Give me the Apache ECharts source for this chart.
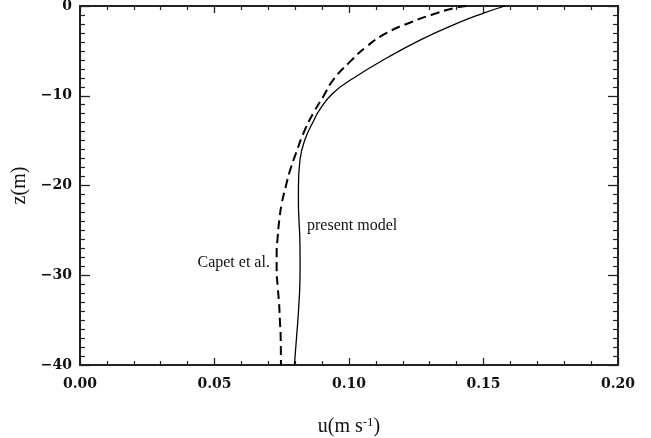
<!DOCTYPE html>
<html>
<head>
<meta charset="utf-8">
<script src="https://cdn.jsdelivr.net/npm/echarts@6/dist/echarts.min.js"></script>
<style>
html,body{margin:0;padding:0;background:#fff;}
#chart{width:651px;height:438px;}
</style>
</head>
<body>
<div id="chart"></div>
<script>
// Present model (solid): depth z (m) and velocity u (m/s)
var modelZ = [0, -0.8, -2.1, -3.8, -5.8, -8.05, -9.7, -11.6, -12.7, -14.9, -17.1, -20.1, -22, -23.8, -25.7, -27.5, -29.4, -31.3, -33.1, -35, -36.9, -40];
var modelU = [0.158, 0.150, 0.1388, 0.1264, 0.114, 0.1016, 0.0941, 0.0890, 0.0870, 0.0836, 0.0818, 0.0812, 0.0812, 0.0814, 0.0817, 0.0818, 0.0818, 0.0817, 0.0814, 0.0810, 0.0805, 0.0797];
// Capet et al. (dashed)
var capetZ = [0, -0.26, -1.0, -1.75, -3.0, -4.5, -6.2, -8.2, -10.1, -11.9, -13.8, -16.4, -18.3, -20.1, -22, -23.8, -25.7, -27.5, -29.4, -31.3, -33.1, -35, -36.9, -40];
var capetU = [0.1437, 0.1388, 0.1305, 0.1235, 0.114, 0.1066, 0.1004, 0.0942, 0.0904, 0.0868, 0.0836, 0.0803, 0.0781, 0.0765, 0.0750, 0.0741, 0.0735, 0.0731, 0.0731, 0.0735, 0.0740, 0.0743, 0.0746, 0.0747];
// Axis ranges [min, max, interval]
var xRange = [0, 0.20, 0.05];
var yRange = [-40, 0, 10];
// Annotations: [text, u, z]
var modelLabel = ['present model', 0.0844, -24.5];
var capetLabel = ['Capet et al.', 0.0706, -28.6];

function pairs(us, zs){ return us.map(function(u,i){ return [u, zs[i]]; }); }

var tickFont = {fontFamily:'DejaVu Serif', fontWeight:'bold', fontSize:14, color:'#111'};
var axisLine = {show:true, onZero:false, lineStyle:{color:'#222', width:2}};

function xAx(pos, showLabel){
  return {
    type:'value', position:pos, min:xRange[0], max:xRange[1], interval:xRange[2],
    axisLine:axisLine,
    axisTick:{show:true, inside:true, length:7, lineStyle:{color:'#222', width:1.3}},
    minorTick:{show:true, splitNumber:5, length:4, lineStyle:{color:'#222', width:1.2}},
    splitLine:{show:false}, minorSplitLine:{show:false},
    axisLabel:Object.assign({show:showLabel, margin:12, formatter:function(v){return v.toFixed(2);}}, tickFont)
  };
}
function yAx(pos, showLabel){
  return {
    type:'value', position:pos, min:yRange[0], max:yRange[1], interval:yRange[2],
    axisLine:axisLine,
    axisTick:{show:true, inside:true, length:10, lineStyle:{color:'#222', width:1.3}},
    minorTick:{show:true, splitNumber:10, length:5, lineStyle:{color:'#222', width:1.2}},
    splitLine:{show:false}, minorSplitLine:{show:false},
    axisLabel:Object.assign({show:showLabel, margin:8, formatter:function(v){return String(v).replace('-', '\u2212');}}, tickFont)
  };
}

var xMain = xAx('bottom', true);
xMain.name = 'u(m s{sup|-1})';
xMain.nameLocation = 'middle';
xMain.nameGap = 51;
xMain.nameTextStyle = {fontFamily:'Liberation Serif', fontSize:20, color:'#111',
  rich:{sup:{fontFamily:'Liberation Serif', fontSize:13, color:'#111', verticalAlign:'top', padding:[0,0,8,0]}}};
var yMain = yAx('left', true);
yMain.name = 'z(m)';
yMain.nameLocation = 'middle';
yMain.nameGap = 39;
yMain.nameTextStyle = {fontFamily:'Liberation Serif', fontSize:20, color:'#111'};

var xTop = xAx('top', false);
var yRight = yAx('right', false);

function annot(a, pos){
  return {
    symbol:'circle', symbolSize:0, silent:true,
    data:[{coord:[a[1], a[2]], value:a[0]}],
    label:{show:true, position:pos, distance:0, formatter:a[0],
      fontFamily:'Liberation Serif', fontSize:16, color:'#111'}
  };
}

var option = {
  animation:false,
  backgroundColor:'#fff',
  grid:{left:80, right:33, top:6, bottom:73, containLabel:false, outerBoundsMode:'none'},
  xAxis:[xMain, xTop],
  yAxis:[yMain, yRight],
  series:[
    {type:'line', name:'present model', xAxisIndex:0, yAxisIndex:0, data:pairs(modelU, modelZ),
     showSymbol:false, smooth:0.5, lineStyle:{color:'#000', width:1.3, type:'solid'},
     markPoint:annot(modelLabel, 'right')},
    {type:'line', name:'Capet et al.', xAxisIndex:0, yAxisIndex:0, data:pairs(capetU, capetZ),
     showSymbol:false, smooth:0.5, lineStyle:{color:'#000', width:2, type:[9,5]},
     markPoint:annot(capetLabel, 'left')}
  ]
};
var chart = echarts.init(document.getElementById('chart'), null, {renderer:'canvas'});
chart.setOption(option);
</script>
</body>
</html>
